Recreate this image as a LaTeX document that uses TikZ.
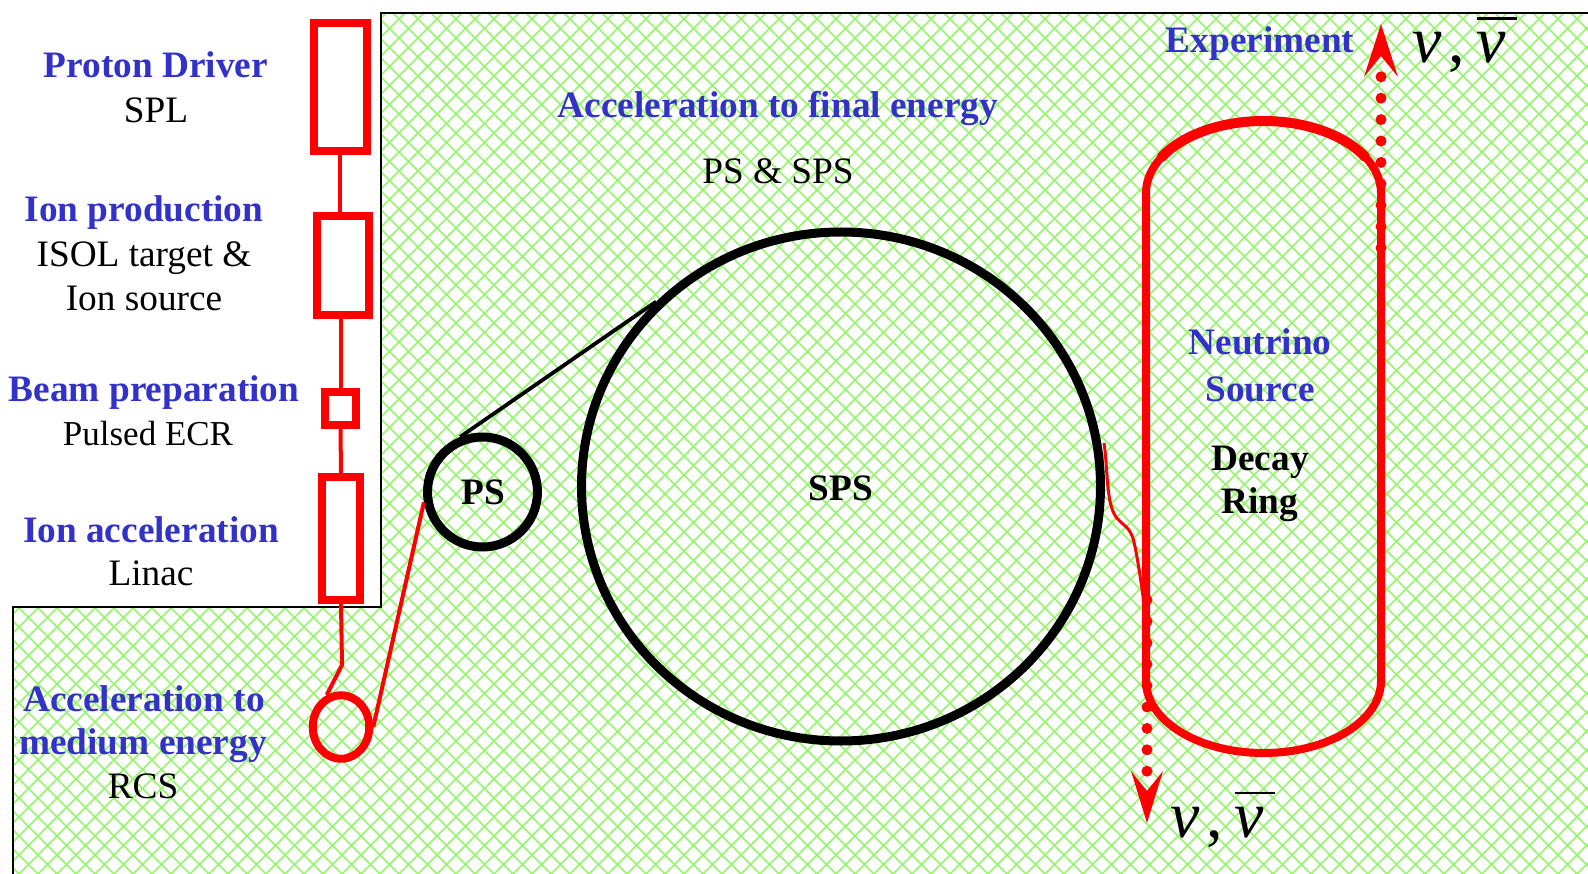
\documentclass[tikz,border=0pt]{standalone}
\usepackage{fontspec}
\setmainfont{Liberation Serif}
\usetikzlibrary{shapes.geometric}
\definecolor{hatchgreen}{RGB}{150,245,110}
\definecolor{labelblue}{RGB}{50,50,200}
\newcommand{\nupair}{\fontsize{66}{66}\selectfont\itshape ν\upshape\kern7pt,\kern12pt\rlap{\raisebox{43pt}{\rule{40pt}{2.5pt}}}\itshape ν}
\tikzset{
  rbox/.style={draw=red,line width=8pt,rectangle,inner sep=0pt},
  blk/.style={draw=black,line width=9pt,ellipse,inner sep=0pt},
  thinred/.style={draw=red,line width=4pt},
  lab/.style={anchor=base,font=\fontsize{37.3}{37.3}\selectfont,inner sep=0pt,outer sep=0pt},
  bluelab/.style={lab,font=\fontsize{37.3}{37.3}\selectfont\bfseries,text=labelblue},
  boldlab/.style={lab,font=\fontsize{37.3}{37.3}\selectfont\bfseries},
  neutrino/.style={draw=red,line width=11pt,line cap=round,dash pattern=on 0pt off 21.4pt}
}
\begin{document}
\begin{tikzpicture}[x=1pt,y=-1pt]
\useasboundingbox (0,0) rectangle (1588,874);
\fill[white] (0,0) rectangle (1588,874);
% hatched region
\begin{scope}
  \clip (381,13) -- (1588,13) -- (1588,874) -- (13,874) -- (13,607) -- (381,607) -- cycle;
  \foreach \k in {-60,...,140} {
    \draw[hatchgreen,line width=1.7pt] (\k*19,0) -- ++(900,900);
    \draw[hatchgreen,line width=1.7pt] (\k*19,0) -- ++(-900,900);
  }
\end{scope}
\draw[black,line width=1.8pt] (1588,13) -- (381,13) -- (381,607) -- (13,607) -- (13,874);

% injector chain
\node[rbox,minimum width=52.5pt,minimum height=128pt] (spl) at (340.3,87) {};
\node[rbox,minimum width=52pt,minimum height=99pt] (isol) at (343,265.5) {};
\node[rbox,minimum width=31pt,minimum height=33pt] (ecr) at (340.5,408.5) {};
\node[rbox,minimum width=38pt,minimum height=123pt] (linac) at (341,538.5) {};
\node[draw=red,line width=8pt,ellipse,inner sep=0pt,minimum width=56.5pt,minimum height=63.5pt] (rcs) at (341,727) {};
\node[blk,minimum width=110pt,minimum height=110pt] (ps) at (482.5,492) {};
\node[blk,minimum width=519pt,minimum height=509pt] (sps) at (841,486.5) {};
\coordinate (bend) at (342,665);

\draw[thinred] (spl.south) -- (isol.north -| spl.south);
\draw[thinred] (isol.south -| ecr.north) -- (ecr.north);
\draw[thinred] (ecr.south) -- (linac.north);
\draw[thinred] (linac.south) -- (bend) -- (rcs.114);
\draw[thinred] (rcs.east) -- (ps.190);
\draw[black,line width=3.8pt] (ps.112) -- (sps.135);

% decay ring
\draw[red,line width=8pt] (1146,193) arc[start angle=180,end angle=0,x radius=117.5,y radius=-72]
  -- (1381,681) arc[start angle=0,end angle=-180,x radius=117.5,y radius=-72] -- cycle;
\draw[red,line width=10pt,line cap=round] (1161.7,157) arc[start angle=150,end angle=30,x radius=117.5,y radius=-72];

% injection into ring
\coordinate (injA) at (1104,443);
\coordinate (injB) at (1147,625);
\draw[red,line width=3pt] (injA) .. controls (1108,470) and (1106,503) .. (1116,517)
  .. controls (1124,527) and (1130,526) .. (1134,542)
  .. controls (1139,565) and (1142,590) .. (injB);

% neutrino beams
\coordinate (upS) at (1381,248);
\coordinate (upT) at (1381,24);
\coordinate (dnS) at (1147,600);
\coordinate (dnT) at (1147,823);
\draw[neutrino] (upS) -- (1381,70);
\draw[neutrino] (dnS) -- (1147,775);
\fill[red] (upT) -- ++(17,53) -- ++(-17,-21) -- ++(-17,21) -- cycle;
\fill[red] (dnT) -- ++(16,-52) -- ++(-16,20) -- ++(-16,-20) -- cycle;

% labels
\node[bluelab] (t1) at (156,78) {Proton Driver};
\node[lab] (t2) at (156,123) {SPL};
\node[bluelab] (t3) at (144,222) {Ion production};
\node[lab] (t4) at (144,267) {ISOL target \&};
\node[lab] (t5) at (144,311) {Ion source};
\node[bluelab] (t6) at (154,402) {Beam preparation};
\node[lab,font=\fontsize{35}{35}\selectfont] (t7) at (148,446) {Pulsed ECR};
\node[bluelab] (t8) at (151,542) {Ion acceleration};
\node[lab] (t9) at (151,585) {Linac};
\node[bluelab] (t10) at (144,711) {Acceleration to};
\node[bluelab] (t11) at (143,754) {medium energy};
\node[lab] (t12) at (143,798) {RCS};
\node[bluelab] (t13) at (778,118) {Acceleration to final energy};
\node[lab] (t14) at (778,184) {PS \& SPS};
\node[bluelab] (t15) at (1260,53) {Experiment};
\node[bluelab] (t16) at (1260,355) {Neutrino};
\node[bluelab] (t17) at (1260,402) {Source};
\node[boldlab] (t18) at (1260,470) {Decay};
\node[boldlab] (t19) at (1260,513) {Ring};
\node[boldlab] (t20) at (841,500) {SPS};
\node[boldlab] (t21) at (483,504) {PS};
\node[lab,anchor=base west] (nu1) at (1412,63) {\nupair};
\node[lab,anchor=base west] (nu2) at (1170,837) {\nupair};
\end{tikzpicture}
\end{document}
